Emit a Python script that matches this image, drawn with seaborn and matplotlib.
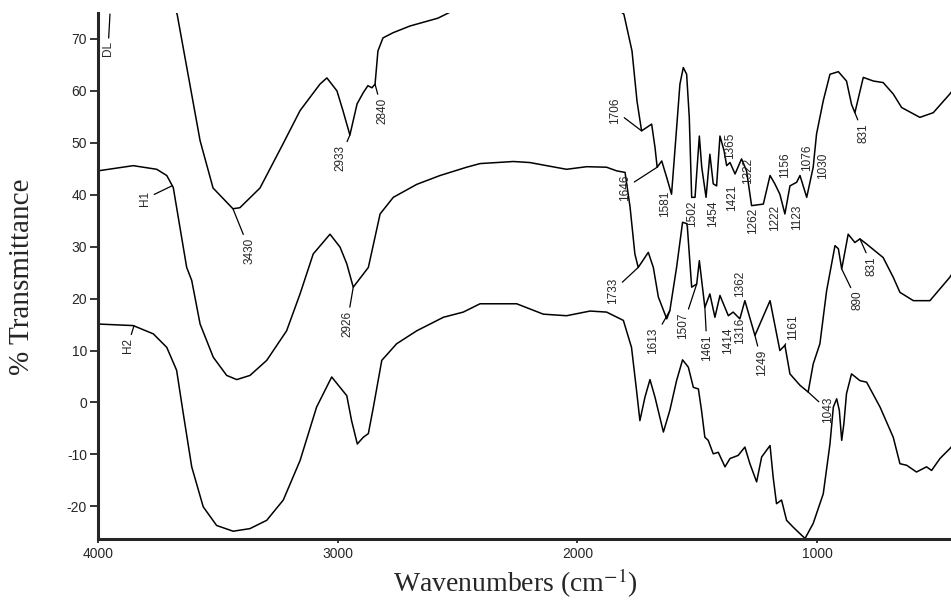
import numpy as np
import pandas as pd
import matplotlib
matplotlib.use("Agg")
import matplotlib.pyplot as plt
import seaborn as sns

# ---------------- data ----------------
dl_wn = [4000, 3850, 3740, 3670, 3574, 3520, 3437, 3408, 3324, 3228, 3157, 3074, 3045, 3003, 2978,
         2949, 2919, 2894, 2874, 2857, 2844, 2832, 2811, 2769, 2698, 2582, 2450, 2200, 1950, 1806,
         1772, 1751, 1732, 1690, 1676, 1667, 1648, 1627, 1607, 1593, 1572, 1558, 1544, 1533, 1523,
         1509, 1491, 1481, 1463, 1447, 1433, 1419, 1405, 1388, 1377, 1363, 1342, 1315, 1294, 1273,
         1224, 1196, 1176, 1155, 1134, 1113, 1085, 1071, 1043, 1016, 1002, 974, 946, 911, 877,
         856, 842, 807, 765, 724, 682, 647, 571, 515, 446, 420]
dl_T = [92, 88, 82, 74.8, 50.4, 41.3, 37.3, 37.5, 41.3, 49.8, 56.2, 61.3, 62.5, 60, 56.2,
        51.5, 57.5, 59.6, 61, 60.6, 61.3, 67.7, 70.2, 71.2, 72.5, 74, 77, 80, 80, 74.8,
        67.7, 58, 52.3, 53.6, 49.1, 45.3, 46.5, 43.3, 40.1, 48.5, 61.3, 64.5, 63.2, 54.9, 39.5,
        39.5, 51.3, 45.3, 39.5, 47.8, 42.1, 41.7, 51.3, 48.5, 45.6, 46.2, 44, 46.9, 44.6, 37.9,
        38.2, 43.7, 42.1, 40.1, 36.3, 41.7, 42.4, 43.7, 39.5, 45.3, 51.7, 58.1, 63.2, 63.7, 61.9,
        57.4, 55.8, 62.6, 61.9, 61.6, 59.4, 56.8, 54.9, 55.8, 59.4, 61]

h1_wn = [4000, 3853, 3755, 3713, 3686, 3630, 3609, 3574, 3519, 3463, 3421, 3366, 3296, 3213, 3157,
         3102, 3032, 2990, 2962, 2935, 2872, 2823, 2768, 2670, 2573, 2462, 2406, 2267, 2198, 2128,
         2045, 1961, 1878, 1836, 1801, 1780, 1760, 1746, 1704, 1683, 1662, 1627, 1614, 1586, 1561,
         1542, 1523, 1502, 1491, 1468, 1447, 1426, 1405, 1370, 1350, 1322, 1301, 1259, 1196, 1155,
         1134, 1113, 1071, 1037, 1016, 988, 960, 925, 911, 897, 870, 842, 821, 793, 724,
         682, 654, 598, 529, 446, 420]
h1_T = [44.6, 45.6, 44.9, 43.7, 41.4, 26, 23.5, 15.1, 8.7, 5.2, 4.4, 5.2, 8.1, 13.8, 20.9,
        28.6, 32.4, 29.9, 26.7, 22.2, 26, 36.3, 39.5, 42, 43.7, 45.3, 46, 46.4, 46.2, 45.6,
        44.9, 45.4, 45.3, 44.6, 44.3, 37.6, 28.6, 26, 28.9, 26, 20.3, 16.1, 17.7, 26, 34.7,
        34.4, 22.2, 22.8, 27.3, 18.3, 20.9, 16.4, 20.6, 16.7, 17.4, 16.1, 19.6, 12.9, 19.6, 10,
        11, 5.5, 3.3, 2, 7.4, 11.3, 21.5, 30.2, 29.6, 25.7, 32.4, 30.8, 31.5, 30.5, 27.9,
        24.1, 21.2, 19.6, 19.6, 24.1, 26]

h2_wn = [4000, 3853, 3769, 3713, 3672, 3644, 3609, 3561, 3505, 3436, 3366, 3296, 3227, 3157, 3088,
         3025, 2990, 2962, 2942, 2918, 2893, 2872, 2851, 2816, 2754, 2670, 2559, 2476, 2406, 2253,
         2142, 2045, 1947, 1878, 1808, 1774, 1753, 1739, 1718, 1697, 1676, 1641, 1614, 1586, 1561,
         1537, 1516, 1495, 1482, 1468, 1454, 1433, 1412, 1384, 1363, 1329, 1301, 1280, 1252, 1231,
         1196, 1183, 1169, 1148, 1127, 1100, 1050, 1016, 974, 946, 932, 918, 907, 897, 888,
         877, 856, 821, 793, 737, 682, 654, 626, 585, 543, 522, 487, 446, 420]
h2_T = [15.1, 14.8, 13.2, 10.6, 6.2, -2.2, -12.4, -20.1, -23.7, -24.8, -24.3, -22.7, -18.8, -11.2, -0.9,
        4.9, 2.9, 1.3, -3.5, -8, -6.7, -6, -0.9, 8.1, 11.3, 13.8, 16.4, 17.4, 19, 19,
        17, 16.7, 17.6, 17.4, 15.8, 10.6, 2.3, -3.5, 1, 4.4, 1, -5.7, -1.5, 4.2, 8.2,
        6.8, 2.9, 2.6, -1.5, -6.7, -7.3, -9.9, -9.6, -12.4, -10.8, -10.2, -8.6, -11.8, -15.3, -10.5,
        -8.3, -14.4, -19.5, -18.8, -22.7, -24, -26.2, -23.3, -17.6, -8, -0.9, 0.7, -1.5, -7.3, -4.1,
        1.7, 5.5, 4.2, 3.9, -0.9, -6.7, -11.8, -12.1, -13.4, -12.4, -13.1, -10.8, -8.9, -7.5]

sample_names = ["DL", "H1", "H2"]
x_ticks = [4000, 3000, 2000, 1000]
y_ticks = [-20, -10, 0, 10, 20, 30, 40, 50, 60, 70]

# peak labels: text, curve it refers to, wavenumber it points at
peak_text = ["DL", "H1", "H2", "3430", "2933", "2840", "1706", "1646", "1581", "1502", "1454",
             "1421", "1365", "1322", "1262", "1222", "1156", "1123", "1076", "1030", "831",
             "1733", "1613", "1507", "1461", "1414", "1316", "1362", "1249", "1161", "890",
             "831", "1043", "2926"]
peak_curve = ["DL", "H1", "H2", "DL", "DL", "DL", "DL", "DL", "DL", "DL", "DL",
              "DL", "DL", "DL", "DL", "DL", "DL", "DL", "DL", "DL", "DL",
              "H1", "H1", "H1", "H1", "H1", "H1", "H1", "H1", "H1", "H1",
              "H1", "H1", "H1"]
peak_target = [3950, 3690, 3850, 3437, 2949, 2844, 1732, 1667, 1607, 1516, 1463,
               1419, 1388, 1315, 1273, 1224, 1155, 1134, 1071, 1043, 842,
               1746, 1614, 1502, 1468, 1426, 1350, 1322, 1259, 1134, 897,
               821, 1037, 2935]

# ---------------- layout (label positions, leaders) ----------------
label_pos = [(3958, 68.1), (3804, 39.2), (3875, 11.0), (3366, 29.2), (2990, 47.1), (2815, 56.2),
             (1843, 56.2), (1801, 41.3), (1634, 38.3), (1522, 36.3), (1434, 36.3),
             (1355, 39.4), (1363, 49.4), (1288, 44.6), (1267, 35.0), (1176, 35.6), (1134, 45.6),
             (1084, 35.6), (1042, 47.1), (975, 45.6), (808, 51.9),
             (1851, 21.5), (1685, 11.9), (1559, 14.8), (1459, 10.6), (1372, 11.9), (1322, 13.8),
             (1322, 22.9), (1230, 7.7), (1100, 14.4), (833, 19.6), (771, 26.3), (954, -1.5),
             (2961, 15.2)]
leader = [True, True, True, True, True, True, True, True, False, False, False,
          False, False, False, False, False, False, False, False, False, True,
          True, True, True, True, False, False, False, True, True, True,
          True, True, True]

# ---------------- plotting ----------------
sns.set_style("ticks")
plt.rcParams["font.family"] = ["Liberation Sans", "DejaVu Sans"]
plt.rcParams["mathtext.fontset"] = "stix"
plt.rcParams["axes.unicode_minus"] = False

frames = []
for name, wn, T in zip(sample_names, [dl_wn, h1_wn, h2_wn], [dl_T, h1_T, h2_T]):
    frames.append(pd.DataFrame({"wn": wn, "T": T, "sample": name}))
df = pd.concat(frames, ignore_index=True)

W, H = 951, 602
fig = plt.figure(figsize=(W / 100, H / 100), dpi=100)
ax = fig.add_axes([98 / W, 1 - 539 / H, 1 - 98 / W, (539 - 13) / H])

sns.lineplot(data=df, x="wn", y="T", hue="sample", palette=["black"] * 3,
             estimator=None, sort=True, lw=1.1, legend=False, ax=ax)

ax.set_xlim(4000, 441)
ax.set_ylim(-26.3, 75)
ax.set_xticks(x_ticks)
ax.set_yticks(y_ticks)
for s in ["top", "right"]:
    ax.spines[s].set_visible(False)
for s in ["left", "bottom"]:
    ax.spines[s].set_linewidth(2.2)
ax.tick_params(axis="y", direction="out", length=6, width=1.3, pad=2, labelsize=10)
ax.tick_params(axis="x", direction="out", length=3, width=1.3, pad=3, labelsize=10)
ax.set_xlabel("")
ax.set_ylabel("")

curves = {n: (np.array(w)[::-1], np.array(t)[::-1]) for n, w, t in
          zip(sample_names, [dl_wn, h1_wn, h2_wn], [dl_T, h1_T, h2_T])}

small_font = ["Liberation Sans Narrow", "Liberation Sans", "DejaVu Sans"]
for txt, cname, tgt, pos, ld in zip(peak_text, peak_curve, peak_target, label_pos, leader):
    w, t = curves[cname]
    ty = min(float(np.interp(tgt, w, t)), 74.8)
    if ld:
        ax.annotate(txt, xy=(tgt, ty), xytext=pos, rotation=90, ha="center", va="center",
                    fontsize=8.5, family=small_font,
                    arrowprops=dict(arrowstyle="-", lw=0.9, color="black",
                                    shrinkA=0, shrinkB=0))
    else:
        ax.text(pos[0], pos[1], txt, rotation=90, ha="center", va="center",
                fontsize=8.5, family=small_font)

fig.text(515 / W, 1 - 583 / H, "Wavenumbers (cm$^{-1}$)", ha="center", va="center",
         fontsize=20, family=["Liberation Serif", "DejaVu Serif"])
fig.text(22 / W, 1 - 277 / H, "% Transmittance", rotation=90, ha="center", va="center",
         fontsize=21, family=["Liberation Serif", "DejaVu Serif"])

fig.savefig("out.png", dpi=100)
